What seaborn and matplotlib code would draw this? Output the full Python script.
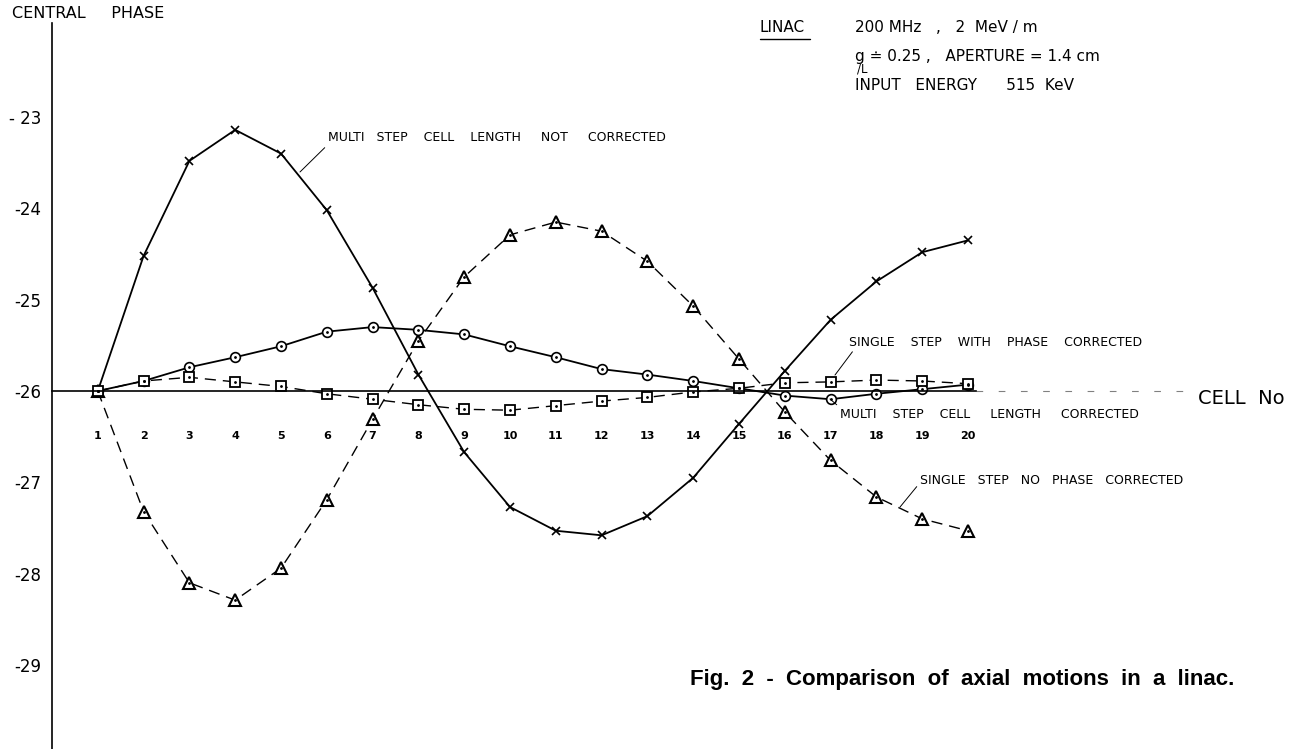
import pandas as pd
import matplotlib
matplotlib.use("Agg")
import matplotlib.pyplot as plt
from matplotlib.lines import Line2D
import seaborn as sns

# --- Données (phase centrale en degrés, par cellule) ---
cells = list(range(1, 21))

multi_not_corr = [-26.00, -24.52, -23.48, -23.14, -23.40, -24.02, -24.87, -25.82, -26.67, -27.27,
                  -27.53, -27.58, -27.37, -26.95, -26.36, -25.78, -25.22, -24.80, -24.48, -24.35]
single_no_corr = [-26.00, -27.32, -28.10, -28.29, -27.94, -27.19, -26.31, -25.45, -24.75, -24.29,
                  -24.15, -24.25, -24.58, -25.07, -25.65, -26.23, -26.76, -27.16, -27.40, -27.53]
multi_corr = [-26.00, -25.89, -25.74, -25.63, -25.51, -25.35, -25.30, -25.33, -25.38, -25.51,
              -25.63, -25.76, -25.82, -25.89, -25.97, -26.05, -26.09, -26.03, -25.98, -25.93]
single_with_corr = [-26.00, -25.89, -25.85, -25.90, -25.95, -26.03, -26.09, -26.15, -26.20, -26.21,
                    -26.16, -26.11, -26.07, -26.01, -25.97, -25.91, -25.90, -25.88, -25.89, -25.92]

y_ticks = [-23, -24, -25, -26, -27, -28, -29]
y_labels = ["- 23", "-24", "-25", "-26", "-27", "-28", "-29"]

sns.set_theme(style="white")
plt.rcParams["font.family"] = ["DejaVu Sans"]
plt.rcParams["text.color"] = "black"

W, H = 1291, 749
fig = plt.figure(figsize=(W / 100, H / 100), dpi=100)
ax = fig.add_axes([52 / W, 0, (1190 - 52) / W, 726 / H])

# --- Courbes ---
sns.lineplot(x=cells, y=multi_not_corr, ax=ax, color="black", lw=1.3,
             marker="x", markersize=5.5, markeredgewidth=1.2, markeredgecolor="black")
sns.lineplot(x=cells, y=single_no_corr, ax=ax, color="black", lw=1.0, linestyle=(0, (8, 5)),
             marker="^", markersize=8, markerfacecolor="white", markeredgecolor="black",
             markeredgewidth=1.5)
sns.lineplot(x=cells, y=multi_corr, ax=ax, color="black", lw=1.3,
             marker="o", markersize=7, markerfacecolor="white", markeredgecolor="black",
             markeredgewidth=1.2)
sns.lineplot(x=cells, y=single_with_corr, ax=ax, color="black", lw=1.0, linestyle=(0, (8, 5)),
             marker="s", markersize=6.5, markerfacecolor="white", markeredgecolor="black",
             markeredgewidth=1.3)
# points centraux des symboles
for vals in [single_no_corr, multi_corr, single_with_corr]:
    ax.plot(cells, vals, linestyle="none", marker=".", markersize=2, color="black")

# --- Axes ---
ax.set_xlim(0, (1190 - 52) / 45.8)
ax.set_ylim(-29.92, -21.97)
for s in ["top", "right"]:
    ax.spines[s].set_visible(False)
ax.spines["bottom"].set_position(("data", -26))
ax.spines["bottom"].set_bounds(0, (976 - 52) / 45.8)
for s in ["left", "bottom"]:
    ax.spines[s].set_linewidth(1.2)
    ax.spines[s].set_color("black")
ax.axhline(-26, xmin=(976 - 52) / (1190 - 52), xmax=1, color="gray",
           lw=0.8, linestyle=(0, (6, 14)))

ax.set_xticks(cells)
ax.set_xticklabels([str(c) for c in cells], fontsize=8, fontweight="bold")
ax.tick_params(axis="x", direction="in", length=4, width=1, pad=29, colors="black")
ax.set_yticks(y_ticks)
ax.set_yticklabels(y_labels, fontsize=12)
ax.tick_params(axis="y", direction="out", length=5, width=1, pad=3, colors="black")
ax.set_xlabel("")
ax.set_ylabel("")


def px(x, y):
    return ((x - 52) / 45.8, -26 - (y - 391) / 91.3)


lab = dict(fontsize=9, color="black")
arrow = dict(arrowstyle="-", lw=0.7, color="black", shrinkA=0, shrinkB=0)

ax.annotate("MULTI   STEP    CELL    LENGTH     NOT     CORRECTED", xy=px(300, 172),
            xytext=px(328, 138), ha="left", va="center", arrowprops=dict(arrow, relpos=(0, 0)), **lab)
ax.annotate("SINGLE    STEP    WITH    PHASE    CORRECTED", xy=px(835, 375), xytext=px(849, 342),
            ha="left", va="center", arrowprops=dict(arrow, relpos=(0.02, 0)), **lab)
ax.annotate("MULTI    STEP    CELL     LENGTH     CORRECTED", xy=px(830, 399), xytext=px(840, 414),
            ha="left", va="center", arrowprops=dict(arrow, relpos=(0, 1)), **lab)
ax.annotate("SINGLE   STEP   NO   PHASE   CORRECTED", xy=px(900, 507), xytext=px(920, 480),
            ha="left", va="center", arrowprops=dict(arrow, relpos=(0, 0.3)), **lab)

# --- Textes de la figure ---
fig.text(12 / W, 1 - 14 / H, "CENTRAL     PHASE", fontsize=11.5, va="center", ha="left")
fig.text(1198 / W, 1 - 399 / H, "CELL  No", fontsize=14, va="center", ha="left")

fig.text(760 / W, 1 - 28 / H, "LINAC", fontsize=11, va="center")
fig.add_artist(Line2D([760 / W, 810 / W], [1 - 39 / H, 1 - 39 / H], color="black", lw=1))
fig.text(855 / W, 1 - 28 / H, "200 MHz   ,   2  MeV / m", fontsize=11, va="center")
fig.text(855 / W, 1 - 56 / H, "g \u2250 0.25 ,   APERTURE = 1.4 cm", fontsize=11, va="center")
fig.text(857 / W, 1 - 69 / H, "/L", fontsize=8.5, va="center")
fig.text(855 / W, 1 - 85 / H, "INPUT   ENERGY      515  KeV", fontsize=11, va="center")

fig.text(690 / W, 1 - 680 / H, "Fig.  2  -  Comparison  of  axial  motions  in  a  linac.",
         fontsize=16, fontweight="bold", family=["Liberation Sans", "DejaVu Sans"], va="center")

fig.savefig("out.png", dpi=100)
